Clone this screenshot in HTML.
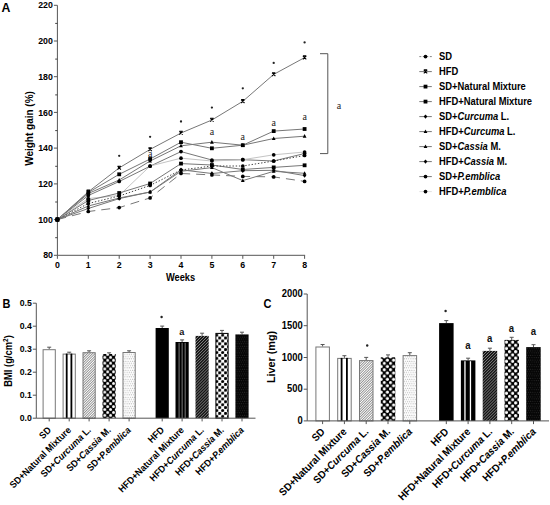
<!DOCTYPE html>
<html><head><meta charset="utf-8"><style>
html,body{margin:0;padding:0;background:#fff;}
svg{display:block;}
</style></head><body>
<svg width="550" height="505" viewBox="0 0 550 505" font-family='"Liberation Sans", sans-serif' fill="#000">
<rect width="550" height="505" fill="#fff"/>

<defs>
 <pattern id="hl" width="1.8" height="1.8" patternUnits="userSpaceOnUse" patternTransform="rotate(-45)">
   <rect width="1.8" height="1.8" fill="#fff"/><rect width="1.8" height="0.75" fill="#7a7a7a"/>
 </pattern>
 <pattern id="hd" width="2.1" height="2.1" patternUnits="userSpaceOnUse" patternTransform="rotate(-45)">
   <rect width="2.1" height="2.1" fill="#151515"/><rect width="2.1" height="0.65" fill="#8a8a8a"/>
 </pattern>
 <pattern id="cd" width="5.8" height="5.8" patternUnits="userSpaceOnUse" x="1.85" y="-0.85">
   <rect width="5.8" height="5.8" fill="#000"/>
   <circle cx="1.45" cy="1.45" r="1.45" fill="#fff"/><circle cx="4.35" cy="4.35" r="1.45" fill="#fff"/>
 </pattern>
 <pattern id="cl" width="5.9" height="5.8" patternUnits="userSpaceOnUse" x="-0.05" y="0.15">
   <rect width="5.9" height="5.8" fill="#fff"/>
   <circle cx="1.45" cy="1.45" r="1.55" fill="#000"/><circle cx="4.4" cy="4.35" r="1.55" fill="#000"/>
 </pattern>
 <pattern id="cs" width="6.2" height="6.4" patternUnits="userSpaceOnUse" x="4.55" y="3.35">
   <rect width="6.2" height="6.4" fill="#000"/>
   <circle cx="1.55" cy="1.6" r="1.55" fill="#fff"/><circle cx="4.65" cy="4.8" r="1.55" fill="#fff"/>
 </pattern>
 <pattern id="ch" width="6.2" height="6.4" patternUnits="userSpaceOnUse" x="5.75" y="4.5">
   <rect width="6.2" height="6.4" fill="#000"/>
   <circle cx="1.55" cy="1.6" r="1.6" fill="#fff"/><circle cx="4.65" cy="4.8" r="1.6" fill="#fff"/>
 </pattern>
 <pattern id="dl" width="2.2" height="4.5" patternUnits="userSpaceOnUse">
   <rect width="2.2" height="4.5" fill="#fff"/><circle cx="0.55" cy="1.1" r="0.5" fill="#8a8a8a"/><circle cx="1.65" cy="3.35" r="0.5" fill="#8a8a8a"/>
 </pattern>
 <pattern id="dd" width="2.2" height="4.6" patternUnits="userSpaceOnUse">
   <rect width="2.2" height="4.6" fill="#050505"/><circle cx="0.55" cy="1.15" r="0.45" fill="#4a4a4a"/><circle cx="1.65" cy="3.45" r="0.45" fill="#4a4a4a"/>
 </pattern>
</defs>
<text transform="translate(1.6,12) scale(1,1.08)" font-size="12.3" font-weight="bold">A</text>
<line x1="57.4" y1="5.3" x2="57.4" y2="255.3" stroke="#555" stroke-width="1"/>
<line x1="53.9" y1="255.3" x2="57.4" y2="255.3" stroke="#555" stroke-width="1"/>
<text transform="translate(52.9,258.4) scale(1,1.08)" font-size="8.8" font-weight="bold" text-anchor="end">80</text>
<line x1="55.199999999999996" y1="237.7" x2="57.4" y2="237.7" stroke="#444" stroke-width="1"/>
<line x1="53.9" y1="219.6" x2="57.4" y2="219.6" stroke="#555" stroke-width="1"/>
<text transform="translate(52.9,222.7) scale(1,1.08)" font-size="8.8" font-weight="bold" text-anchor="end">100</text>
<line x1="55.199999999999996" y1="202.0" x2="57.4" y2="202.0" stroke="#444" stroke-width="1"/>
<line x1="53.9" y1="183.9" x2="57.4" y2="183.9" stroke="#555" stroke-width="1"/>
<text transform="translate(52.9,187.0) scale(1,1.08)" font-size="8.8" font-weight="bold" text-anchor="end">120</text>
<line x1="55.199999999999996" y1="166.3" x2="57.4" y2="166.3" stroke="#444" stroke-width="1"/>
<line x1="53.9" y1="148.1" x2="57.4" y2="148.1" stroke="#555" stroke-width="1"/>
<text transform="translate(52.9,151.2) scale(1,1.08)" font-size="8.8" font-weight="bold" text-anchor="end">140</text>
<line x1="55.199999999999996" y1="130.6" x2="57.4" y2="130.6" stroke="#444" stroke-width="1"/>
<line x1="53.9" y1="112.4" x2="57.4" y2="112.4" stroke="#555" stroke-width="1"/>
<text transform="translate(52.9,115.5) scale(1,1.08)" font-size="8.8" font-weight="bold" text-anchor="end">160</text>
<line x1="55.199999999999996" y1="94.9" x2="57.4" y2="94.9" stroke="#444" stroke-width="1"/>
<line x1="53.9" y1="76.7" x2="57.4" y2="76.7" stroke="#555" stroke-width="1"/>
<text transform="translate(52.9,79.8) scale(1,1.08)" font-size="8.8" font-weight="bold" text-anchor="end">180</text>
<line x1="55.199999999999996" y1="59.1" x2="57.4" y2="59.1" stroke="#444" stroke-width="1"/>
<line x1="53.9" y1="41.0" x2="57.4" y2="41.0" stroke="#555" stroke-width="1"/>
<text transform="translate(52.9,44.1) scale(1,1.08)" font-size="8.8" font-weight="bold" text-anchor="end">200</text>
<line x1="55.199999999999996" y1="23.4" x2="57.4" y2="23.4" stroke="#444" stroke-width="1"/>
<line x1="53.9" y1="5.3" x2="57.4" y2="5.3" stroke="#555" stroke-width="1"/>
<text transform="translate(52.9,8.4) scale(1,1.08)" font-size="8.8" font-weight="bold" text-anchor="end">220</text>
<line x1="57.4" y1="255.3" x2="305.09999999999997" y2="255.3" stroke="#555" stroke-width="1"/>
<line x1="57.4" y1="255.3" x2="57.4" y2="258.8" stroke="#555" stroke-width="1"/>
<text transform="translate(57.4,267.6) scale(1,1.08)" font-size="8.8" font-weight="bold" text-anchor="middle">0</text>
<line x1="88.3" y1="255.3" x2="88.3" y2="258.8" stroke="#555" stroke-width="1"/>
<text transform="translate(88.3,267.6) scale(1,1.08)" font-size="8.8" font-weight="bold" text-anchor="middle">1</text>
<line x1="119.2" y1="255.3" x2="119.2" y2="258.8" stroke="#555" stroke-width="1"/>
<text transform="translate(119.2,267.6) scale(1,1.08)" font-size="8.8" font-weight="bold" text-anchor="middle">2</text>
<line x1="150.1" y1="255.3" x2="150.1" y2="258.8" stroke="#555" stroke-width="1"/>
<text transform="translate(150.1,267.6) scale(1,1.08)" font-size="8.8" font-weight="bold" text-anchor="middle">3</text>
<line x1="181.0" y1="255.3" x2="181.0" y2="258.8" stroke="#555" stroke-width="1"/>
<text transform="translate(181.0,267.6) scale(1,1.08)" font-size="8.8" font-weight="bold" text-anchor="middle">4</text>
<line x1="211.9" y1="255.3" x2="211.9" y2="258.8" stroke="#555" stroke-width="1"/>
<text transform="translate(211.9,267.6) scale(1,1.08)" font-size="8.8" font-weight="bold" text-anchor="middle">5</text>
<line x1="242.8" y1="255.3" x2="242.8" y2="258.8" stroke="#555" stroke-width="1"/>
<text transform="translate(242.8,267.6) scale(1,1.08)" font-size="8.8" font-weight="bold" text-anchor="middle">6</text>
<line x1="273.7" y1="255.3" x2="273.7" y2="258.8" stroke="#555" stroke-width="1"/>
<text transform="translate(273.7,267.6) scale(1,1.08)" font-size="8.8" font-weight="bold" text-anchor="middle">7</text>
<line x1="304.6" y1="255.3" x2="304.6" y2="258.8" stroke="#555" stroke-width="1"/>
<text transform="translate(304.6,267.6) scale(1,1.08)" font-size="8.8" font-weight="bold" text-anchor="middle">8</text>
<text transform="translate(180.5,281) scale(1,1.08)" font-size="9.3" font-weight="bold" text-anchor="middle">Weeks</text>
<text transform="translate(33.4,128.5) rotate(-90) scale(1,1.08)" font-size="10" font-weight="bold" text-anchor="middle">Weight gain (%)</text>
<polyline points="57.4,219.6 88.3,191.8 119.2,167.9 150.1,149.4 181.0,133.0 211.9,120.0 242.8,101.3 273.7,74.4 304.6,57.6" fill="none" stroke="#777" stroke-width="1"/>
<polyline points="57.4,219.6 88.3,192.5 119.2,174.3 150.1,159.0 181.0,142.2 211.9,148.3 242.8,145.2 273.7,131.1 304.6,129.0" fill="none" stroke="#777" stroke-width="1"/>
<polyline points="57.4,219.6 88.3,193.5 119.2,180.0 150.1,161.0 181.0,145.8 211.9,142.2 242.8,145.2 273.7,138.5 304.6,136.2" fill="none" stroke="#777" stroke-width="1"/>
<polyline points="57.4,219.6 88.3,195.5 119.2,181.5 150.1,166.2 181.0,151.6 211.9,160.0 242.8,159.7 273.7,161.0 304.6,153.5" fill="none" stroke="#777" stroke-width="1"/>
<polyline points="57.4,219.6 88.3,198.5 119.2,195.5 150.1,166.0 181.0,158.2 211.9,161.0 242.8,159.7 273.7,154.8 304.6,152.0" fill="none" stroke="#c4c4c4" stroke-width="1"/>
<polyline points="57.4,219.6 88.3,200.5 119.2,193.0 150.1,183.5 181.0,163.6 211.9,165.0 242.8,169.5 273.7,167.4 304.6,165.3" fill="none" stroke="#777" stroke-width="1"/>
<polyline points="57.4,219.6 88.3,203.5 119.2,196.0 150.1,185.4 181.0,170.0 211.9,166.0 242.8,166.0 273.7,161.0 304.6,155.5" fill="none" stroke="#444" stroke-width="1" stroke-dasharray="1.4,1.8"/>
<polyline points="57.4,219.6 88.3,206.0 119.2,198.0 150.1,192.0 181.0,171.3 211.9,167.6 242.8,180.6 273.7,171.3 304.6,173.3" fill="none" stroke="#777" stroke-width="1"/>
<polyline points="57.4,219.6 88.3,208.5 119.2,198.6 150.1,192.0 181.0,169.8 211.9,173.5 242.8,170.7 273.7,170.3 304.6,175.6" fill="none" stroke="#777" stroke-width="1"/>
<polyline points="57.4,219.6 88.3,211.5 119.2,207.6 150.1,197.9 181.0,173.5 211.9,174.9 242.8,176.4 273.7,176.9 304.6,181.4" fill="none" stroke="#777" stroke-width="1" stroke-dasharray="9,6"/>
<path d="M55.7,217.9 L59.1,221.3 M59.1,217.9 L55.7,221.3 M55.7,217.9 L59.1,217.9" stroke="#000" stroke-width="1.1"/>
<path d="M86.6,190.1 L90.0,193.5 M90.0,190.1 L86.6,193.5 M86.6,190.1 L90.0,190.1" stroke="#000" stroke-width="1.1"/>
<path d="M117.5,166.2 L120.9,169.6 M120.9,166.2 L117.5,169.6 M117.5,166.2 L120.9,166.2" stroke="#000" stroke-width="1.1"/>
<path d="M148.4,147.7 L151.8,151.1 M151.8,147.7 L148.4,151.1 M148.4,147.7 L151.8,147.7" stroke="#000" stroke-width="1.1"/>
<path d="M179.3,131.3 L182.7,134.7 M182.7,131.3 L179.3,134.7 M179.3,131.3 L182.7,131.3" stroke="#000" stroke-width="1.1"/>
<path d="M210.2,118.3 L213.6,121.7 M213.6,118.3 L210.2,121.7 M210.2,118.3 L213.6,118.3" stroke="#000" stroke-width="1.1"/>
<path d="M241.1,99.6 L244.5,103.0 M244.5,99.6 L241.1,103.0 M241.1,99.6 L244.5,99.6" stroke="#000" stroke-width="1.1"/>
<path d="M272.0,72.7 L275.4,76.1 M275.4,72.7 L272.0,76.1 M272.0,72.7 L275.4,72.7" stroke="#000" stroke-width="1.1"/>
<path d="M302.9,55.9 L306.3,59.3 M306.3,55.9 L302.9,59.3 M302.9,55.9 L306.3,55.9" stroke="#000" stroke-width="1.1"/>
<rect x="55.5" y="217.7" width="3.8" height="3.8" fill="#000"/>
<rect x="86.4" y="190.6" width="3.8" height="3.8" fill="#000"/>
<rect x="117.3" y="172.4" width="3.8" height="3.8" fill="#000"/>
<rect x="148.2" y="157.1" width="3.8" height="3.8" fill="#000"/>
<rect x="179.1" y="140.3" width="3.8" height="3.8" fill="#000"/>
<rect x="210.0" y="146.4" width="3.8" height="3.8" fill="#000"/>
<rect x="240.9" y="143.3" width="3.8" height="3.8" fill="#000"/>
<rect x="271.8" y="129.2" width="3.8" height="3.8" fill="#000"/>
<rect x="302.7" y="127.1" width="3.8" height="3.8" fill="#000"/>
<path d="M57.4,217.5 L59.3,221.1 L55.5,221.1Z" fill="#000"/>
<path d="M88.3,191.4 L90.2,195.0 L86.4,195.0Z" fill="#000"/>
<path d="M119.2,177.9 L121.1,181.5 L117.3,181.5Z" fill="#000"/>
<path d="M150.1,158.9 L152.0,162.5 L148.2,162.5Z" fill="#000"/>
<path d="M181.0,143.7 L182.9,147.3 L179.1,147.3Z" fill="#000"/>
<path d="M211.9,140.1 L213.8,143.7 L210.0,143.7Z" fill="#000"/>
<path d="M242.8,143.1 L244.7,146.7 L240.9,146.7Z" fill="#000"/>
<path d="M273.7,136.4 L275.6,140.0 L271.8,140.0Z" fill="#000"/>
<path d="M304.6,134.1 L306.5,137.7 L302.7,137.7Z" fill="#000"/>
<circle cx="57.4" cy="219.6" r="1.85" fill="#000"/>
<circle cx="88.3" cy="195.5" r="1.85" fill="#000"/>
<circle cx="119.2" cy="181.5" r="1.85" fill="#000"/>
<circle cx="150.1" cy="166.2" r="1.85" fill="#000"/>
<circle cx="181.0" cy="151.6" r="1.85" fill="#000"/>
<circle cx="211.9" cy="160.0" r="1.85" fill="#000"/>
<circle cx="242.8" cy="159.7" r="1.85" fill="#000"/>
<circle cx="273.7" cy="161.0" r="1.85" fill="#000"/>
<circle cx="304.6" cy="153.5" r="1.85" fill="#000"/>
<circle cx="57.4" cy="219.6" r="1.85" fill="#000"/>
<circle cx="88.3" cy="198.5" r="1.85" fill="#000"/>
<circle cx="119.2" cy="195.5" r="1.85" fill="#000"/>
<circle cx="150.1" cy="166.0" r="1.85" fill="#000"/>
<circle cx="181.0" cy="158.2" r="1.85" fill="#000"/>
<circle cx="211.9" cy="161.0" r="1.85" fill="#000"/>
<circle cx="242.8" cy="159.7" r="1.85" fill="#000"/>
<circle cx="273.7" cy="154.8" r="1.85" fill="#000"/>
<circle cx="304.6" cy="152.0" r="1.85" fill="#000"/>
<rect x="55.5" y="217.7" width="3.8" height="3.8" fill="#000"/>
<rect x="86.4" y="198.6" width="3.8" height="3.8" fill="#000"/>
<rect x="117.3" y="191.1" width="3.8" height="3.8" fill="#000"/>
<rect x="148.2" y="181.6" width="3.8" height="3.8" fill="#000"/>
<rect x="179.1" y="161.7" width="3.8" height="3.8" fill="#000"/>
<rect x="210.0" y="163.1" width="3.8" height="3.8" fill="#000"/>
<rect x="240.9" y="167.6" width="3.8" height="3.8" fill="#000"/>
<rect x="271.8" y="165.5" width="3.8" height="3.8" fill="#000"/>
<rect x="302.7" y="163.4" width="3.8" height="3.8" fill="#000"/>
<circle cx="57.4" cy="219.6" r="1.85" fill="#000"/>
<circle cx="88.3" cy="203.5" r="1.85" fill="#000"/>
<circle cx="119.2" cy="196.0" r="1.85" fill="#000"/>
<circle cx="150.1" cy="185.4" r="1.85" fill="#000"/>
<circle cx="181.0" cy="170.0" r="1.85" fill="#000"/>
<circle cx="211.9" cy="166.0" r="1.85" fill="#000"/>
<circle cx="242.8" cy="166.0" r="1.85" fill="#000"/>
<circle cx="273.7" cy="161.0" r="1.85" fill="#000"/>
<circle cx="304.6" cy="155.5" r="1.85" fill="#000"/>
<path d="M57.4,217.5 L59.3,221.1 L55.5,221.1Z" fill="#000"/>
<path d="M88.3,203.9 L90.2,207.5 L86.4,207.5Z" fill="#000"/>
<path d="M119.2,195.9 L121.1,199.5 L117.3,199.5Z" fill="#000"/>
<path d="M150.1,189.9 L152.0,193.5 L148.2,193.5Z" fill="#000"/>
<path d="M181.0,169.2 L182.9,172.8 L179.1,172.8Z" fill="#000"/>
<path d="M211.9,165.5 L213.8,169.1 L210.0,169.1Z" fill="#000"/>
<path d="M242.8,178.5 L244.7,182.1 L240.9,182.1Z" fill="#000"/>
<path d="M273.7,169.2 L275.6,172.8 L271.8,172.8Z" fill="#000"/>
<path d="M304.6,171.2 L306.5,174.8 L302.7,174.8Z" fill="#000"/>
<path d="M57.4,217.4 L59.2,219.6 L57.4,221.8 L55.6,219.6Z" fill="#000"/>
<path d="M88.3,206.3 L90.1,208.5 L88.3,210.7 L86.5,208.5Z" fill="#000"/>
<path d="M119.2,196.4 L121.0,198.6 L119.2,200.8 L117.4,198.6Z" fill="#000"/>
<path d="M150.1,189.8 L151.9,192.0 L150.1,194.2 L148.3,192.0Z" fill="#000"/>
<path d="M181.0,167.6 L182.8,169.8 L181.0,172.0 L179.2,169.8Z" fill="#000"/>
<path d="M211.9,171.3 L213.7,173.5 L211.9,175.7 L210.1,173.5Z" fill="#000"/>
<path d="M242.8,168.5 L244.6,170.7 L242.8,172.9 L241.0,170.7Z" fill="#000"/>
<path d="M273.7,168.1 L275.5,170.3 L273.7,172.5 L271.9,170.3Z" fill="#000"/>
<path d="M304.6,173.4 L306.4,175.6 L304.6,177.8 L302.8,175.6Z" fill="#000"/>
<circle cx="57.4" cy="219.6" r="1.85" fill="#000"/>
<circle cx="88.3" cy="211.5" r="1.85" fill="#000"/>
<circle cx="119.2" cy="207.6" r="1.85" fill="#000"/>
<circle cx="150.1" cy="197.9" r="1.85" fill="#000"/>
<circle cx="181.0" cy="173.5" r="1.85" fill="#000"/>
<circle cx="211.9" cy="174.9" r="1.85" fill="#000"/>
<circle cx="242.8" cy="176.4" r="1.85" fill="#000"/>
<circle cx="273.7" cy="176.9" r="1.85" fill="#000"/>
<circle cx="304.6" cy="181.4" r="1.85" fill="#000"/>
<circle cx="119.2" cy="155.8" r="1.15" fill="#222"/>
<circle cx="150.1" cy="136.8" r="1.15" fill="#222"/>
<circle cx="181.0" cy="121.5" r="1.15" fill="#222"/>
<circle cx="211.9" cy="107.6" r="1.15" fill="#222"/>
<circle cx="242.8" cy="88.3" r="1.15" fill="#222"/>
<circle cx="273.7" cy="62.9" r="1.15" fill="#222"/>
<circle cx="304.6" cy="42.4" r="1.15" fill="#222"/>
<text transform="translate(150.1,156.7) scale(1,1.08)" font-family='"Liberation Serif", serif' font-size="10" text-anchor="middle" fill="#222">a</text>
<text transform="translate(211.9,135.2) scale(1,1.08)" font-family='"Liberation Serif", serif' font-size="10" text-anchor="middle" fill="#222">a</text>
<text transform="translate(242.8,140.0) scale(1,1.08)" font-family='"Liberation Serif", serif' font-size="10" text-anchor="middle" fill="#222">a</text>
<text transform="translate(273.7,125.8) scale(1,1.08)" font-family='"Liberation Serif", serif' font-size="10" text-anchor="middle" fill="#222">a</text>
<text transform="translate(304.6,119.8) scale(1,1.08)" font-family='"Liberation Serif", serif' font-size="10" text-anchor="middle" fill="#222">a</text>
<path d="M320,53.7 H327.8 V153.6 H320" fill="none" stroke="#555" stroke-width="1"/>
<text transform="translate(339,109) scale(1,1.08)" font-family='"Liberation Serif", serif' font-size="10" text-anchor="middle" fill="#222">a</text>
<line x1="419.3" y1="56.6" x2="431.8" y2="56.6" stroke="#777" stroke-width="0.9" stroke-dasharray="2,1.5"/>
<circle cx="425.5" cy="56.6" r="1.85" fill="#000"/>
<text transform="translate(439,60.0) scale(1,1.08)" font-size="9.4" font-weight="bold">SD</text>
<line x1="419.3" y1="71.6" x2="431.8" y2="71.6" stroke="#666" stroke-width="0.9"/>
<path d="M423.8,69.9 L427.2,73.3 M427.2,69.9 L423.8,73.3 M423.8,69.9 L427.2,69.9" stroke="#000" stroke-width="1.1"/>
<text transform="translate(439,75.0) scale(1,1.08)" font-size="9.4" font-weight="bold">HFD</text>
<line x1="419.3" y1="86.6" x2="431.8" y2="86.6" stroke="#666" stroke-width="0.9"/>
<rect x="423.6" y="84.7" width="3.8" height="3.8" fill="#000"/>
<text transform="translate(439,90.0) scale(1,1.08)" font-size="9.4" font-weight="bold">SD+Natural Mixture</text>
<line x1="419.3" y1="101.6" x2="431.8" y2="101.6" stroke="#666" stroke-width="0.9"/>
<rect x="423.6" y="99.7" width="3.8" height="3.8" fill="#000"/>
<text transform="translate(439,105.0) scale(1,1.08)" font-size="9.4" font-weight="bold">HFD+Natural Mixture</text>
<line x1="419.3" y1="116.6" x2="431.8" y2="116.6" stroke="#666" stroke-width="0.9"/>
<path d="M425.5,114.4 L427.3,116.6 L425.5,118.8 L423.7,116.6Z" fill="#000"/>
<text transform="translate(439,120.0) scale(1,1.08)" font-size="9.4" font-weight="bold">SD+<tspan font-style="italic">Curcuma</tspan> L.</text>
<line x1="419.3" y1="131.6" x2="431.8" y2="131.6" stroke="#666" stroke-width="0.9"/>
<path d="M425.5,129.5 L427.4,133.1 L423.6,133.1Z" fill="#000"/>
<text transform="translate(439,135.0) scale(1,1.08)" font-size="9.4" font-weight="bold">HFD+<tspan font-style="italic">Curcuma</tspan> L.</text>
<line x1="419.3" y1="146.6" x2="431.8" y2="146.6" stroke="#666" stroke-width="0.9"/>
<path d="M425.5,144.5 L427.4,148.1 L423.6,148.1Z" fill="#000"/>
<text transform="translate(439,150.0) scale(1,1.08)" font-size="9.4" font-weight="bold">SD+<tspan font-style="italic">Cassia</tspan> M.</text>
<line x1="419.3" y1="161.6" x2="431.8" y2="161.6" stroke="#666" stroke-width="0.9"/>
<path d="M425.5,159.4 L427.3,161.6 L425.5,163.8 L423.7,161.6Z" fill="#000"/>
<text transform="translate(439,165.0) scale(1,1.08)" font-size="9.4" font-weight="bold">HFD+<tspan font-style="italic">Cassia</tspan> M.</text>
<line x1="419.3" y1="176.6" x2="431.8" y2="176.6" stroke="#666" stroke-width="0.9"/>
<circle cx="425.5" cy="176.6" r="1.85" fill="#000"/>
<text transform="translate(439,180.0) scale(1,1.08)" font-size="9.4" font-weight="bold">SD+<tspan font-style="italic">P.emblica</tspan></text>
<line x1="419.3" y1="191.6" x2="431.8" y2="191.6" stroke="#ddd" stroke-width="0.9"/>
<circle cx="425.5" cy="191.6" r="1.85" fill="#000"/>
<text transform="translate(439,195.0) scale(1,1.08)" font-size="9.4" font-weight="bold">HFD+<tspan font-style="italic">P.emblica</tspan></text>
<text transform="translate(2.5,307.8) scale(1,1.08)" font-size="11" font-weight="bold">B</text>
<line x1="36.3" y1="303.2" x2="36.3" y2="418.2" stroke="#555" stroke-width="1"/>
<line x1="32.8" y1="418.2" x2="36.3" y2="418.2" stroke="#555" stroke-width="1"/>
<text transform="translate(31.799999999999997,421.4) scale(1,1.08)" font-size="8.7" font-weight="bold" text-anchor="end">0.0</text>
<line x1="32.8" y1="395.2" x2="36.3" y2="395.2" stroke="#555" stroke-width="1"/>
<text transform="translate(31.799999999999997,398.4) scale(1,1.08)" font-size="8.7" font-weight="bold" text-anchor="end">0.1</text>
<line x1="32.8" y1="372.2" x2="36.3" y2="372.2" stroke="#555" stroke-width="1"/>
<text transform="translate(31.799999999999997,375.4) scale(1,1.08)" font-size="8.7" font-weight="bold" text-anchor="end">0.2</text>
<line x1="32.8" y1="349.2" x2="36.3" y2="349.2" stroke="#555" stroke-width="1"/>
<text transform="translate(31.799999999999997,352.4) scale(1,1.08)" font-size="8.7" font-weight="bold" text-anchor="end">0.3</text>
<line x1="32.8" y1="326.2" x2="36.3" y2="326.2" stroke="#555" stroke-width="1"/>
<text transform="translate(31.799999999999997,329.4) scale(1,1.08)" font-size="8.7" font-weight="bold" text-anchor="end">0.4</text>
<line x1="32.8" y1="303.2" x2="36.3" y2="303.2" stroke="#555" stroke-width="1"/>
<text transform="translate(31.799999999999997,306.4) scale(1,1.08)" font-size="8.7" font-weight="bold" text-anchor="end">0.5</text>
<line x1="49.2" y1="347.2" x2="49.2" y2="349.2" stroke="#555" stroke-width="1"/>
<line x1="47.2" y1="347.2" x2="51.2" y2="347.2" stroke="#555" stroke-width="1"/>
<rect x="43.1" y="349.7" width="12.2" height="68.5" fill="#fff" stroke="#777" stroke-width="1"/>
<line x1="69.2" y1="352.2" x2="69.2" y2="353.6" stroke="#555" stroke-width="1"/>
<line x1="67.2" y1="352.2" x2="71.2" y2="352.2" stroke="#555" stroke-width="1"/>
<rect x="63.1" y="354.1" width="12.2" height="64.1" fill="#fff" stroke="#777" stroke-width="1"/>
<rect x="65.8" y="353.6" width="1.8" height="64.6" fill="#000"/>
<rect x="70.5" y="353.6" width="1.8" height="64.6" fill="#000"/>
<line x1="89.1" y1="350.8" x2="89.1" y2="352.2" stroke="#555" stroke-width="1"/>
<line x1="87.1" y1="350.8" x2="91.1" y2="350.8" stroke="#555" stroke-width="1"/>
<rect x="83.0" y="352.7" width="12.2" height="65.5" fill="url(#hl)" stroke="#777" stroke-width="1"/>
<line x1="109.1" y1="352.8" x2="109.1" y2="354.0" stroke="#555" stroke-width="1"/>
<line x1="107.1" y1="352.8" x2="111.1" y2="352.8" stroke="#555" stroke-width="1"/>
<rect x="102.5" y="354.0" width="13.2" height="64.2" fill="url(#cd)"/>
<line x1="129.1" y1="350.8" x2="129.1" y2="352.0" stroke="#555" stroke-width="1"/>
<line x1="127.1" y1="350.8" x2="131.1" y2="350.8" stroke="#555" stroke-width="1"/>
<rect x="123.0" y="352.5" width="12.2" height="65.7" fill="url(#dl)" stroke="#777" stroke-width="1"/>
<line x1="162.2" y1="326.1" x2="162.2" y2="328.0" stroke="#555" stroke-width="1"/>
<line x1="160.2" y1="326.1" x2="164.2" y2="326.1" stroke="#555" stroke-width="1"/>
<rect x="155.6" y="328.0" width="13.2" height="90.2" fill="#000"/>
<line x1="182.1" y1="339.9" x2="182.1" y2="342.0" stroke="#555" stroke-width="1"/>
<line x1="180.1" y1="339.9" x2="184.1" y2="339.9" stroke="#555" stroke-width="1"/>
<rect x="175.5" y="342.0" width="13.2" height="76.2" fill="#000"/>
<rect x="178.5" y="342.8" width="1.2" height="75.4" fill="#666"/>
<rect x="181.7" y="342.8" width="0.8" height="75.4" fill="#999"/>
<rect x="184.6" y="342.8" width="1.2" height="75.4" fill="#666"/>
<line x1="202.1" y1="333.2" x2="202.1" y2="335.9" stroke="#555" stroke-width="1"/>
<line x1="200.1" y1="333.2" x2="204.1" y2="333.2" stroke="#555" stroke-width="1"/>
<rect x="195.5" y="335.9" width="13.2" height="82.3" fill="url(#hd)"/>
<line x1="222.0" y1="330.4" x2="222.0" y2="332.9" stroke="#555" stroke-width="1"/>
<line x1="220.0" y1="330.4" x2="224.0" y2="330.4" stroke="#555" stroke-width="1"/>
<rect x="215.9" y="333.4" width="12.2" height="84.8" fill="url(#cl)" stroke="#000" stroke-width="1"/>
<line x1="242.0" y1="332.2" x2="242.0" y2="334.4" stroke="#555" stroke-width="1"/>
<line x1="240.0" y1="332.2" x2="244.0" y2="332.2" stroke="#555" stroke-width="1"/>
<rect x="235.4" y="334.4" width="13.2" height="83.8" fill="url(#dd)"/>
<line x1="36.3" y1="418.2" x2="255.5" y2="418.2" stroke="#555" stroke-width="1"/>
<line x1="49.2" y1="418.2" x2="49.2" y2="421.4" stroke="#555" stroke-width="1"/>
<text transform="translate(51.7,430.7) rotate(-45) scale(1,1.08)" font-size="8.9" font-weight="bold" text-anchor="end">SD</text>
<line x1="69.2" y1="418.2" x2="69.2" y2="421.4" stroke="#555" stroke-width="1"/>
<text transform="translate(71.7,430.7) rotate(-45) scale(1,1.08)" font-size="8.9" font-weight="bold" text-anchor="end">SD+Natural Mixture</text>
<line x1="89.1" y1="418.2" x2="89.1" y2="421.4" stroke="#555" stroke-width="1"/>
<text transform="translate(91.6,430.7) rotate(-45) scale(1,1.08)" font-size="8.9" font-weight="bold" text-anchor="end">SD+<tspan font-style="italic">Curcuma</tspan> L.</text>
<line x1="109.1" y1="418.2" x2="109.1" y2="421.4" stroke="#555" stroke-width="1"/>
<text transform="translate(111.6,430.7) rotate(-45) scale(1,1.08)" font-size="8.9" font-weight="bold" text-anchor="end">SD+<tspan font-style="italic">Cassia</tspan> M.</text>
<line x1="129.1" y1="418.2" x2="129.1" y2="421.4" stroke="#555" stroke-width="1"/>
<text transform="translate(131.6,430.7) rotate(-45) scale(1,1.08)" font-size="8.9" font-weight="bold" text-anchor="end">SD+<tspan font-style="italic">P.emblica</tspan></text>
<line x1="162.2" y1="418.2" x2="162.2" y2="421.4" stroke="#555" stroke-width="1"/>
<text transform="translate(164.7,430.7) rotate(-45) scale(1,1.08)" font-size="8.9" font-weight="bold" text-anchor="end">HFD</text>
<line x1="182.1" y1="418.2" x2="182.1" y2="421.4" stroke="#555" stroke-width="1"/>
<text transform="translate(184.6,430.7) rotate(-45) scale(1,1.08)" font-size="8.9" font-weight="bold" text-anchor="end">HFD+Natural Mixture</text>
<line x1="202.1" y1="418.2" x2="202.1" y2="421.4" stroke="#555" stroke-width="1"/>
<text transform="translate(204.6,430.7) rotate(-45) scale(1,1.08)" font-size="8.9" font-weight="bold" text-anchor="end">HFD+<tspan font-style="italic">Curcuma</tspan> L.</text>
<line x1="222.0" y1="418.2" x2="222.0" y2="421.4" stroke="#555" stroke-width="1"/>
<text transform="translate(224.5,430.7) rotate(-45) scale(1,1.08)" font-size="8.9" font-weight="bold" text-anchor="end">HFD+<tspan font-style="italic">Cassia</tspan> M.</text>
<line x1="242.0" y1="418.2" x2="242.0" y2="421.4" stroke="#555" stroke-width="1"/>
<text transform="translate(244.5,430.7) rotate(-45) scale(1,1.08)" font-size="8.9" font-weight="bold" text-anchor="end">HFD+<tspan font-style="italic">P.emblica</tspan></text>
<text transform="translate(12,361) rotate(-90) scale(1,1.08)" font-size="9.4" font-weight="bold" text-anchor="middle">BMI (g/cm<tspan dy="-3.5" font-size="6.5">2</tspan><tspan dy="3.5">)</tspan></text>
<circle cx="161.6" cy="317" r="1.2" fill="#222"/>
<text transform="translate(181.9,334.5) scale(1,1.08)" font-size="9.2" font-weight="bold" text-anchor="middle" fill="#111">a</text>
<text transform="translate(263.5,307.5) scale(1,1.08)" font-size="11" font-weight="bold">C</text>
<line x1="307.2" y1="294" x2="307.2" y2="420.9" stroke="#555" stroke-width="1"/>
<line x1="303.7" y1="420.9" x2="307.2" y2="420.9" stroke="#555" stroke-width="1"/>
<text transform="translate(302.7,424.1) scale(1,1.08)" font-size="9.4" font-weight="bold" text-anchor="end">0</text>
<line x1="303.7" y1="389.2" x2="307.2" y2="389.2" stroke="#555" stroke-width="1"/>
<text transform="translate(302.7,392.4) scale(1,1.08)" font-size="9.4" font-weight="bold" text-anchor="end">500</text>
<line x1="303.7" y1="357.5" x2="307.2" y2="357.5" stroke="#555" stroke-width="1"/>
<text transform="translate(302.7,360.7) scale(1,1.08)" font-size="9.4" font-weight="bold" text-anchor="end">1000</text>
<line x1="303.7" y1="325.7" x2="307.2" y2="325.7" stroke="#555" stroke-width="1"/>
<text transform="translate(302.7,328.9) scale(1,1.08)" font-size="9.4" font-weight="bold" text-anchor="end">1500</text>
<line x1="303.7" y1="294.0" x2="307.2" y2="294.0" stroke="#555" stroke-width="1"/>
<text transform="translate(302.7,297.2) scale(1,1.08)" font-size="9.4" font-weight="bold" text-anchor="end">2000</text>
<line x1="322.6" y1="344.5" x2="322.6" y2="346.5" stroke="#555" stroke-width="1"/>
<line x1="320.6" y1="344.5" x2="324.6" y2="344.5" stroke="#555" stroke-width="1"/>
<rect x="315.9" y="347.0" width="13.5" height="73.9" fill="#fff" stroke="#777" stroke-width="1"/>
<line x1="344.4" y1="355.7" x2="344.4" y2="357.9" stroke="#555" stroke-width="1"/>
<line x1="342.4" y1="355.7" x2="346.4" y2="355.7" stroke="#555" stroke-width="1"/>
<rect x="337.7" y="358.4" width="13.5" height="62.5" fill="#fff" stroke="#777" stroke-width="1"/>
<rect x="340.7" y="357.9" width="1.8" height="63.0" fill="#000"/>
<rect x="346.0" y="357.9" width="1.8" height="63.0" fill="#000"/>
<line x1="366.2" y1="357.4" x2="366.2" y2="360.1" stroke="#555" stroke-width="1"/>
<line x1="364.2" y1="357.4" x2="368.2" y2="357.4" stroke="#555" stroke-width="1"/>
<rect x="359.5" y="360.6" width="13.5" height="60.3" fill="url(#hl)" stroke="#777" stroke-width="1"/>
<line x1="388.0" y1="354.9" x2="388.0" y2="357.3" stroke="#555" stroke-width="1"/>
<line x1="386.0" y1="354.9" x2="390.0" y2="354.9" stroke="#555" stroke-width="1"/>
<rect x="380.8" y="357.3" width="14.5" height="63.6" fill="url(#cs)"/>
<line x1="409.8" y1="352.7" x2="409.8" y2="355.1" stroke="#555" stroke-width="1"/>
<line x1="407.8" y1="352.7" x2="411.8" y2="352.7" stroke="#555" stroke-width="1"/>
<rect x="403.1" y="355.6" width="13.5" height="65.3" fill="url(#dl)" stroke="#777" stroke-width="1"/>
<line x1="446.3" y1="320.6" x2="446.3" y2="323.1" stroke="#555" stroke-width="1"/>
<line x1="444.3" y1="320.6" x2="448.3" y2="320.6" stroke="#555" stroke-width="1"/>
<rect x="439.1" y="323.1" width="14.5" height="97.8" fill="#000"/>
<line x1="468.1" y1="358.2" x2="468.1" y2="360.4" stroke="#555" stroke-width="1"/>
<line x1="466.1" y1="358.2" x2="470.1" y2="358.2" stroke="#555" stroke-width="1"/>
<rect x="460.9" y="360.4" width="14.5" height="60.5" fill="#000"/>
<rect x="464.3" y="361.2" width="1.3" height="59.7" fill="#fff"/>
<rect x="469.8" y="361.2" width="1.3" height="59.7" fill="#fff"/>
<line x1="489.9" y1="348.2" x2="489.9" y2="350.9" stroke="#555" stroke-width="1"/>
<line x1="487.9" y1="348.2" x2="491.9" y2="348.2" stroke="#555" stroke-width="1"/>
<rect x="482.7" y="350.9" width="14.5" height="70.0" fill="url(#hd)"/>
<line x1="511.7" y1="337.3" x2="511.7" y2="339.9" stroke="#555" stroke-width="1"/>
<line x1="509.7" y1="337.3" x2="513.7" y2="337.3" stroke="#555" stroke-width="1"/>
<rect x="504.5" y="339.9" width="14.5" height="81.0" fill="url(#ch)"/>
<line x1="533.5" y1="344.7" x2="533.5" y2="347.1" stroke="#555" stroke-width="1"/>
<line x1="531.5" y1="344.7" x2="535.5" y2="344.7" stroke="#555" stroke-width="1"/>
<rect x="526.2" y="347.1" width="14.5" height="73.8" fill="url(#dd)"/>
<line x1="307.2" y1="420.9" x2="549" y2="420.9" stroke="#555" stroke-width="1"/>
<line x1="322.6" y1="420.9" x2="322.6" y2="424.09999999999997" stroke="#555" stroke-width="1"/>
<text transform="translate(325.6,432.4) rotate(-45) scale(1,1.08)" font-size="9.8" font-weight="bold" text-anchor="end">SD</text>
<line x1="344.4" y1="420.9" x2="344.4" y2="424.09999999999997" stroke="#555" stroke-width="1"/>
<text transform="translate(347.4,432.4) rotate(-45) scale(1,1.08)" font-size="9.8" font-weight="bold" text-anchor="end">SD+Natural Mixture</text>
<line x1="366.2" y1="420.9" x2="366.2" y2="424.09999999999997" stroke="#555" stroke-width="1"/>
<text transform="translate(369.2,432.4) rotate(-45) scale(1,1.08)" font-size="9.8" font-weight="bold" text-anchor="end">SD+<tspan font-style="italic">Curcuma</tspan> L.</text>
<line x1="388.0" y1="420.9" x2="388.0" y2="424.09999999999997" stroke="#555" stroke-width="1"/>
<text transform="translate(391.0,432.4) rotate(-45) scale(1,1.08)" font-size="9.8" font-weight="bold" text-anchor="end">SD+<tspan font-style="italic">Cassia</tspan> M.</text>
<line x1="409.8" y1="420.9" x2="409.8" y2="424.09999999999997" stroke="#555" stroke-width="1"/>
<text transform="translate(412.8,432.4) rotate(-45) scale(1,1.08)" font-size="9.8" font-weight="bold" text-anchor="end">SD+<tspan font-style="italic">P.emblica</tspan></text>
<line x1="446.3" y1="420.9" x2="446.3" y2="424.09999999999997" stroke="#555" stroke-width="1"/>
<text transform="translate(449.3,432.4) rotate(-45) scale(1,1.08)" font-size="9.8" font-weight="bold" text-anchor="end">HFD</text>
<line x1="468.1" y1="420.9" x2="468.1" y2="424.09999999999997" stroke="#555" stroke-width="1"/>
<text transform="translate(471.1,432.4) rotate(-45) scale(1,1.08)" font-size="9.8" font-weight="bold" text-anchor="end">HFD+Natural Mixture</text>
<line x1="489.9" y1="420.9" x2="489.9" y2="424.09999999999997" stroke="#555" stroke-width="1"/>
<text transform="translate(492.9,432.4) rotate(-45) scale(1,1.08)" font-size="9.8" font-weight="bold" text-anchor="end">HFD+<tspan font-style="italic">Curcuma</tspan> L.</text>
<line x1="511.7" y1="420.9" x2="511.7" y2="424.09999999999997" stroke="#555" stroke-width="1"/>
<text transform="translate(514.7,432.4) rotate(-45) scale(1,1.08)" font-size="9.8" font-weight="bold" text-anchor="end">HFD+<tspan font-style="italic">Cassia</tspan> M.</text>
<line x1="533.5" y1="420.9" x2="533.5" y2="424.09999999999997" stroke="#555" stroke-width="1"/>
<text transform="translate(536.5,432.4) rotate(-45) scale(1,1.08)" font-size="9.8" font-weight="bold" text-anchor="end">HFD+<tspan font-style="italic">P.emblica</tspan></text>
<text transform="translate(275,357) rotate(-90) scale(1,1.08)" font-size="10.8" font-weight="bold" text-anchor="middle">Liver (mg)</text>
<circle cx="367.2" cy="345.5" r="1.2" fill="#222"/>
<circle cx="445.6" cy="311" r="1.2" fill="#222"/>
<text transform="translate(467.8,349.40000000000003) scale(1,1.08)" font-size="9.6" font-weight="bold" text-anchor="middle" fill="#111">a</text>
<text transform="translate(489.7,341.70000000000005) scale(1,1.08)" font-size="9.6" font-weight="bold" text-anchor="middle" fill="#111">a</text>
<text transform="translate(511.5,331.70000000000005) scale(1,1.08)" font-size="9.6" font-weight="bold" text-anchor="middle" fill="#111">a</text>
<text transform="translate(533.4,335.3) scale(1,1.08)" font-size="9.6" font-weight="bold" text-anchor="middle" fill="#111">a</text>
</svg></body></html>
